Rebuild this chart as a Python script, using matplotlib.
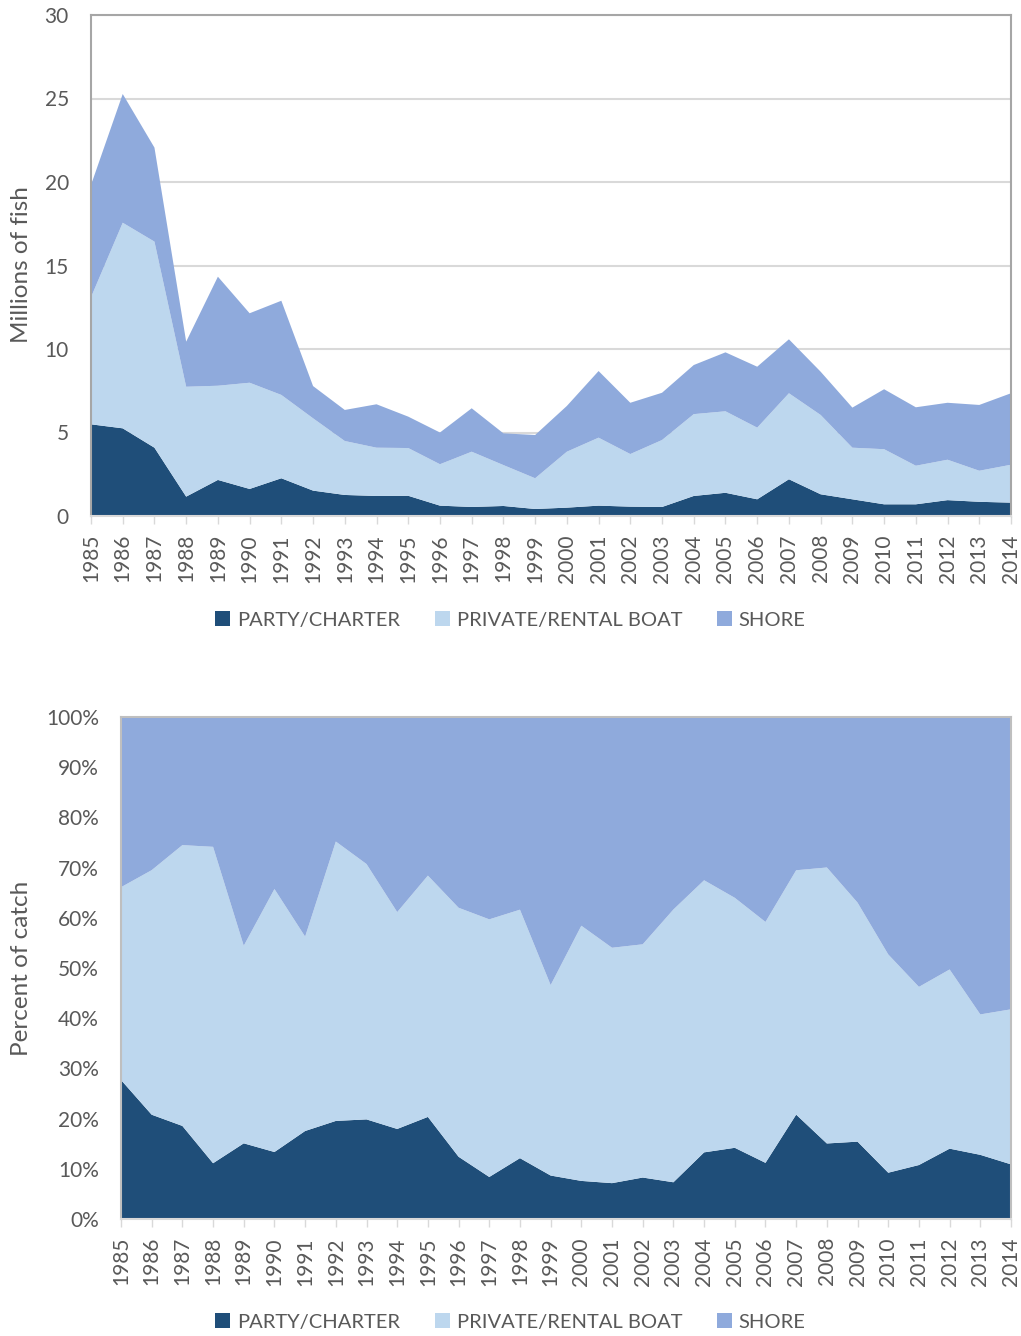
import numpy as np
import matplotlib
matplotlib.use("Agg")
import matplotlib.pyplot as plt
from matplotlib.patches import Patch
from matplotlib.ticker import PercentFormatter

plt.rcParams['font.family'] = ['Lato', 'DejaVu Sans']

years = list(range(1985, 2015))
# cumulative tops (millions of fish)
party = [5.49, 5.25, 4.09, 1.16, 2.16, 1.62, 2.26, 1.52, 1.26, 1.20,
         1.21, 0.62, 0.54, 0.60, 0.42, 0.50, 0.62, 0.56, 0.54, 1.20,
         1.39, 1.00, 2.20, 1.30, 1.00, 0.70, 0.70, 0.95, 0.85, 0.80]
private_top = [13.10, 17.56, 16.43, 7.74, 7.80, 7.98, 7.25, 5.85, 4.49, 4.09,
               4.07, 3.10, 3.85, 3.05, 2.26, 3.85, 4.69, 3.71, 4.55, 6.10,
               6.27, 5.29, 7.35, 6.05, 4.09, 4.00, 3.01, 3.37, 2.71, 3.07]
total = [19.82, 25.27, 22.06, 10.44, 14.33, 12.14, 12.89, 7.78, 6.35, 6.69,
         5.95, 5.00, 6.45, 4.95, 4.85, 6.59, 8.68, 6.78, 7.38, 9.04,
         9.80, 8.94, 10.58, 8.64, 6.49, 7.59, 6.51, 6.78, 6.65, 7.35]

labels = ["PARTY/CHARTER", "PRIVATE/RENTAL BOAT", "SHORE"]
colors = ["#1F4E79", "#BDD7EE", "#8FAADC"]

party = np.array(party)
private = np.array(private_top) - party
shore = np.array(total) - np.array(private_top)
tot = np.array(total)

txt = "#595959"
fig = plt.figure(figsize=(10.21, 13.36), dpi=100)

def style(ax, border):
    ax.set_xlim(years[0], years[-1])
    ax.set_xticks(years)
    ax.set_xticklabels([str(y) for y in years], rotation=90)
    ax.tick_params(axis='x', length=6, width=1, color="#D9D9D9", pad=7,
                   labelsize=15, labelcolor=txt)
    ax.tick_params(axis='y', length=0, pad=16, labelsize=15, labelcolor=txt)
    for s in ['left', 'top', 'right']:
        ax.spines[s].set_color(border)
        ax.spines[s].set_linewidth(1.5)
    ax.spines['bottom'].set_color("#D9D9D9")
    ax.spines['bottom'].set_linewidth(1.5)

def legend(y):
    handles = [Patch(facecolor=c, edgecolor='none') for c in colors]
    fig.legend(handles, labels, loc='center', bbox_to_anchor=(0.5, y), ncol=3,
               frameon=False, fontsize=14.5, labelcolor=txt,
               handlelength=0.75, handleheight=0.75, handletextpad=0.35,
               columnspacing=1.7)

# top: absolute numbers
ax1 = fig.add_axes([91 / 1021, 1 - 516 / 1336, 920 / 1021, 501 / 1336])
ax1.stackplot(years, party, private, shore, colors=colors, linewidth=0, zorder=2)
ax1.set_ylim(0, 30)
ax1.set_yticks(range(0, 31, 5))
ax1.yaxis.grid(True, color="#D9D9D9", linewidth=1.5, zorder=0)
ax1.set_axisbelow(True)
style(ax1, "#A6A6A6")
fig.text(22 / 1021, 1 - 265 / 1336, "Millions of fish", rotation=90,
         ha='center', va='center', fontsize=17.5, color=txt)
legend(1 - 620 / 1336)

# bottom: share of catch
ax2 = fig.add_axes([121 / 1021, 1 - 1219 / 1336, 890 / 1021, 502 / 1336])
ax2.stackplot(years, party / tot, private / tot, shore / tot, colors=colors,
              linewidth=0)
ax2.set_ylim(0, 1)
ax2.set_yticks(np.arange(0, 1.01, 0.1))
ax2.yaxis.set_major_formatter(PercentFormatter(1.0, decimals=0))
style(ax2, "#BFBFBF")
fig.text(22 / 1021, 1 - 968 / 1336, "Percent of catch", rotation=90,
         ha='center', va='center', fontsize=17.5, color=txt)
legend(1 - 1322 / 1336)

fig.savefig("out.png", dpi=100)
